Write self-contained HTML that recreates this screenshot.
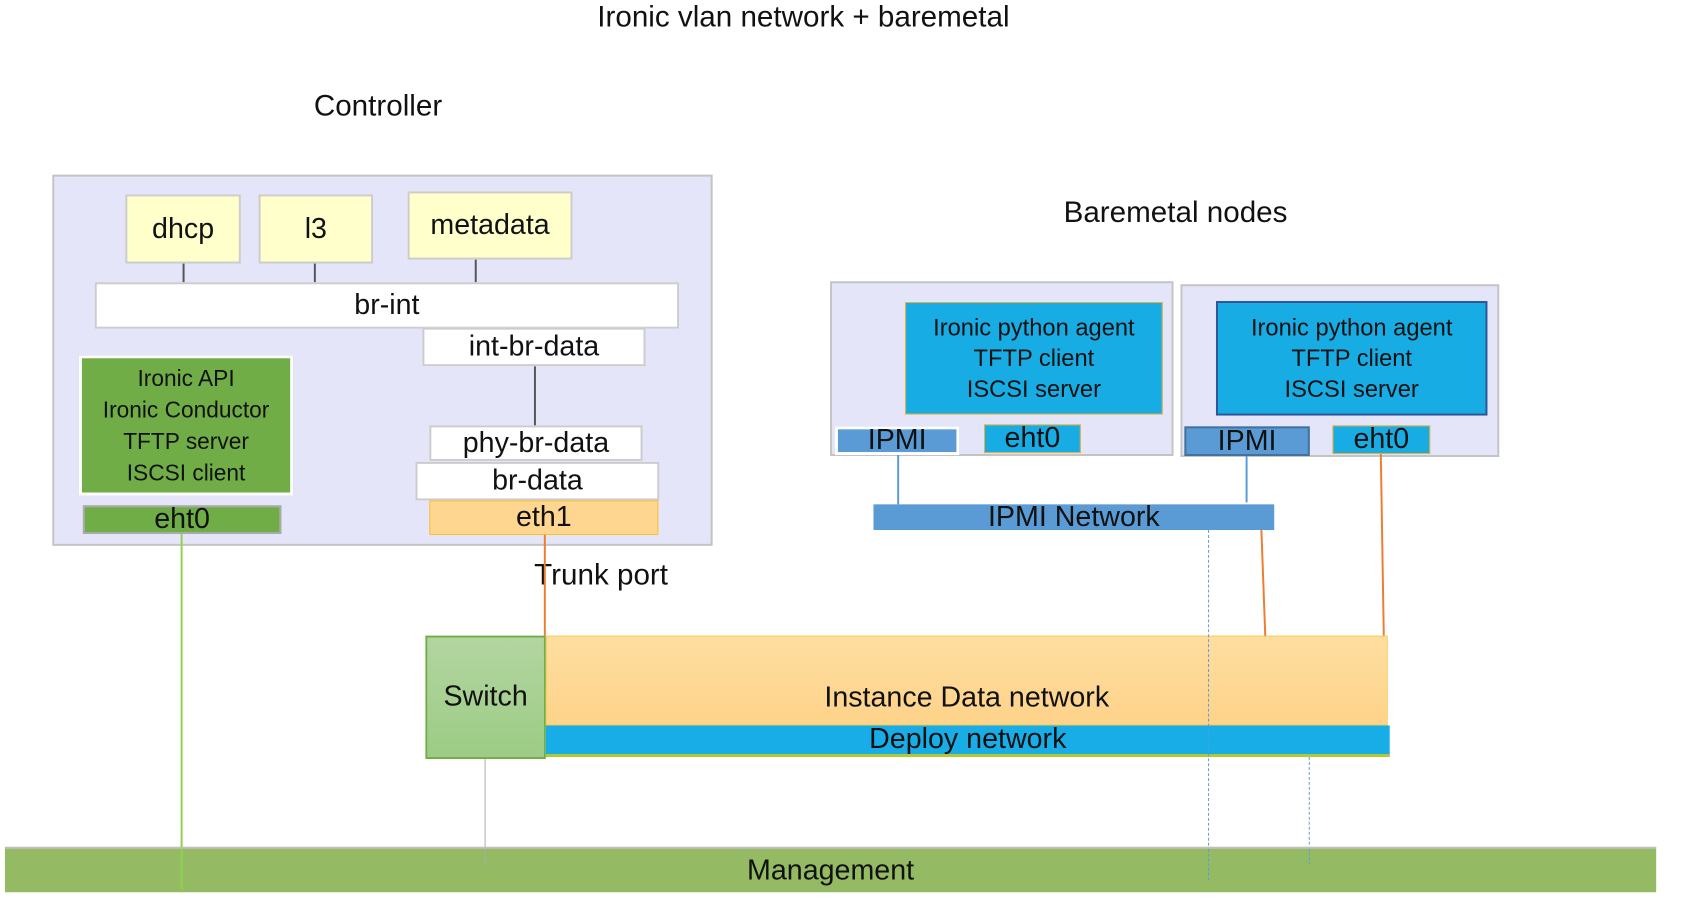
<!DOCTYPE html>
<html><head><meta charset="utf-8"><style>
body{margin:0;width:1682px;height:905px;background:#fff;position:relative;overflow:hidden;font-family:"Liberation Sans",sans-serif;color:#111}
#w{position:absolute;left:0;top:0;width:1700px;height:920px;transform:scale(0.987);transform-origin:0 0}
.b{position:absolute;box-sizing:border-box;display:flex;align-items:center;justify-content:center;text-align:center}
.t{position:absolute;white-space:nowrap;transform:translate(-50%,-50%)}
.l{position:absolute}
</style></head><body><div id="w">
<div class="t" style="left:814px;top:18px;font-size:30px">Ironic vlan network + baremetal</div>
<div class="t" style="left:383px;top:108px;font-size:30px">Controller</div>
<div class="t" style="left:1191px;top:216px;font-size:30px">Baremetal nodes</div>
<div class="t" style="left:609px;top:583px;font-size:30px">Trunk port</div>

<div class="b" style="left:53px;top:177px;width:669px;height:376px;background:#e5e5fa;border:2px solid #c4c4c4"></div>
<div class="l" style="left:185px;top:267px;width:2px;height:19px;background:#555"></div>
<div class="l" style="left:318px;top:267px;width:2px;height:19px;background:#555"></div>
<div class="l" style="left:481px;top:263px;width:2px;height:23px;background:#555"></div>
<div class="l" style="left:541px;top:371px;width:2px;height:60px;background:#555"></div>
<div class="b" style="left:127px;top:197px;width:117px;height:70px;background:#ffffcc;border:2px solid #ccc;font-size:29px">dhcp</div>
<div class="b" style="left:262px;top:197px;width:116px;height:70px;background:#ffffcc;border:2px solid #ccc;font-size:29px">l3</div>
<div class="b" style="left:413px;top:194px;width:167px;height:69px;background:#ffffcc;border:2px solid #ccc;font-size:29px">metadata</div>
<div class="b" style="left:96px;top:286px;width:592px;height:47px;background:#fff;border:2px solid #ccc;font-size:29px">br-int</div>
<div class="b" style="left:428px;top:332px;width:226px;height:39px;background:#fff;border:2px solid #ccc;font-size:29px">int-br-data</div>
<div class="b" style="left:80px;top:360px;width:217px;height:142px;background:#70ad47;border:3px solid #fff;font-size:23px;line-height:32px">Ironic API<br>Ironic Conductor<br>TFTP server<br>ISCSI client</div>
<div class="b" style="left:84px;top:512px;width:201px;height:29px;background:#70ad47;border:2px solid #aaa;font-size:29px">eht0</div>
<div class="b" style="left:435px;top:431px;width:216px;height:36px;background:#fff;border:2px solid #ccc;font-size:29px">phy-br-data</div>
<div class="b" style="left:421px;top:468px;width:247px;height:39px;background:#fff;border:2px solid #ccc;font-size:29px">br-data</div>
<div class="b" style="left:435px;top:507px;width:232px;height:35px;background:#fed690;border:1px solid #f5c030;font-size:29px">eth1</div>

<div class="l" style="left:183px;top:541px;width:2px;height:360px;background:#92d050"></div>
<div class="l" style="left:551px;top:542px;width:2px;height:102px;background:#ed7d31"></div>
<div class="l" style="left:491px;top:769px;width:1px;height:110px;background:#aaa"></div>

<div class="b" style="left:841px;top:285px;width:348px;height:177px;background:#e5e5fa;border:2px solid #c4c4c4"></div>
<div class="b" style="left:917px;top:306px;width:261px;height:114px;background:#17ade4;border:1px solid #f0b030;font-size:24px;line-height:31px">Ironic python agent<br>TFTP client<br>ISCSI server</div>
<div class="b" style="left:846px;top:432px;width:126px;height:29px;background:#5b9bd5;border:3px solid #fff;font-size:29px">IPMI</div>
<div class="b" style="left:997px;top:430px;width:98px;height:29px;background:#17ade4;border:1px solid #f0b030;font-size:29px">eht0</div>

<div class="b" style="left:1196px;top:288px;width:323px;height:175px;background:#e5e5fa;border:2px solid #c4c4c4"></div>
<div class="b" style="left:1232px;top:305px;width:275px;height:116px;background:#17ade4;border:2px solid #2f5597;font-size:24px;line-height:31px">Ironic python agent<br>TFTP client<br>ISCSI server</div>
<div class="b" style="left:1200px;top:432px;width:127px;height:30px;background:#5b9bd5;border:2px solid #41719c;font-size:29px">IPMI</div>
<div class="b" style="left:1350px;top:431px;width:99px;height:29px;background:#17ade4;border:1px solid #f0b030;font-size:29px">eht0</div>

<div class="l" style="left:909px;top:461px;width:2px;height:50px;background:#5b9bd5"></div>
<div class="l" style="left:1262px;top:462px;width:2px;height:47px;background:#5b9bd5"></div>
<div class="b" style="left:885px;top:511px;width:406px;height:26px;background:#5b9bd5;font-size:29px">IPMI Network</div>
<svg class="l" style="left:0;top:0" width="1700" height="920">
<line x1="1278" y1="537" x2="1282" y2="646" stroke="#ed7d31" stroke-width="2"/>
<line x1="1399" y1="460" x2="1402" y2="644" stroke="#ed7d31" stroke-width="2"/>
</svg>

<div class="b" style="left:431px;top:644px;width:122px;height:125px;background:linear-gradient(#b3d5a0,#9ccc85);border:2px solid #70ad47;font-size:29px">Switch</div>
<div class="b" style="left:553px;top:644px;width:853px;height:91px;background:linear-gradient(#fedea0,#fed38a);border:1px solid #f8c840;font-size:29px;padding-top:36px">Instance Data network</div>
<div class="b" style="left:553px;top:735px;width:855px;height:32px;background:#18ade6;border-bottom:3px solid #b8c830;font-size:29px">Deploy network</div>
<div class="l" style="left:1224px;top:537px;width:0;height:355px;border-left:1px dashed #5b9bd5"></div>
<div class="l" style="left:1326px;top:767px;width:0;height:109px;border-left:1px dashed #5b9bd5"></div>

<div class="b" style="left:5px;top:858px;width:1673px;height:46px;background:#94bb64;border-top:2px solid #c0c0c0;font-size:29px">Management</div>
<div class="l" style="left:183px;top:860px;width:2px;height:41px;background:#92d050"></div>
<div class="l" style="left:491px;top:860px;width:1px;height:19px;background:#aaa"></div>
<div class="l" style="left:1224px;top:860px;width:0;height:32px;border-left:1px dashed #5b9bd5"></div>
<div class="l" style="left:1326px;top:860px;width:0;height:16px;border-left:1px dashed #5b9bd5"></div>
</div></body></html>
